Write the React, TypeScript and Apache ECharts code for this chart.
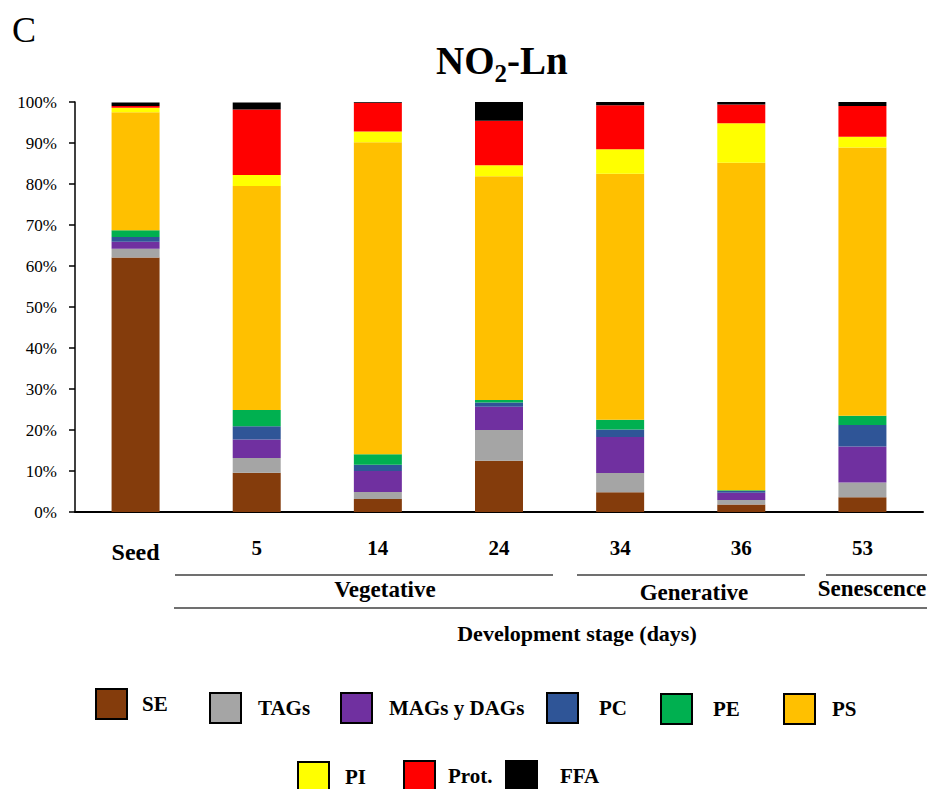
import React, { useEffect, useRef } from "react";
import * as echarts from "echarts";

// ---- data (percent of total) ----
const categories = ["Seed", "5", "14", "24", "34", "36", "53"];
const seriesNames = ["SE", "TAGs", "MAGs y DAGs", "PC", "PE", "PS", "PI", "Prot.", "FFA"];
const SE = [62.1, 9.6, 3.2, 12.5, 4.8, 1.8, 3.6];
const TAGs = [2.1, 3.6, 1.7, 7.5, 4.7, 1.1, 3.6];
const MAGs = [1.7, 4.5, 5.1, 5.7, 8.8, 1.8, 8.8];
const PC = [1.2, 3.2, 1.5, 1.0, 1.8, 0.4, 5.2];
const PE = [1.6, 4.0, 2.6, 0.6, 2.4, 0.2, 2.3];
const PS = [28.8, 54.6, 76.1, 54.6, 60.0, 79.9, 65.4];
const PI = [1.1, 2.7, 2.6, 2.7, 6.0, 9.6, 2.6];
const Prot = [0.4, 16.0, 7.0, 10.8, 10.7, 4.6, 7.5];
const FFA = [0.9, 1.7, 0.2, 4.6, 0.8, 0.6, 1.0];
const seriesValues = [SE, TAGs, MAGs, PC, PE, PS, PI, Prot, FFA];
const seriesColors = ["#843C0C", "#A5A5A5", "#7030A0", "#2F5597", "#00B050", "#FFC000", "#FFFF00", "#FF0000", "#000000"];

const stageGroups = ["Vegetative", "Generative", "Senescence"];
const axisTitle = "Development stage (days)";

// ---- layout of the legend items (box left/top, text offsets) ----
const legendLayout = [
  { left: 95, top: 688, dy: 3, dx: 10 },
  { left: 209, top: 692, dy: 5, dx: 12 },
  { left: 340, top: 692, dy: 6, dx: 12 },
  { left: 546, top: 692, dy: 4, dx: 16 },
  { left: 660, top: 693, dy: 4, dx: 16 },
  { left: 783, top: 693, dy: 3, dx: 12 },
  { left: 297, top: 761, dy: 3, dx: 11 },
  { left: 403, top: 760, dy: -4, dx: 8 },
  { left: 505, top: 760, dy: 3, dx: 18 },
];

const FONT = "'Liberation Serif', 'DejaVu Serif', serif";

export default function App() {
  const ref = useRef<HTMLDivElement>(null);

  useEffect(() => {
    if (!ref.current) return;
    const chart = echarts.init(ref.current, undefined, { renderer: "svg" });

    const legends = seriesNames.map((name, i) => {
      const l = legendLayout[i];
      const pad = l.dy >= 0 ? [2 * l.dy, 0, 0, l.dx] : [0, 0, -2 * l.dy, l.dx];
      return {
        data: [name],
        left: l.left,
        top: l.top,
        padding: 0,
        itemWidth: 31,
        itemHeight: 30,
        icon: "rect",
        selectedMode: false,
        itemStyle: { borderColor: "#000", borderWidth: 2 },
        textStyle: {
          fontFamily: FONT,
          fontWeight: "bold",
          fontSize: 21,
          color: "#000",
          padding: pad,
        },
      };
    });

    const textStyleBase = { fontFamily: FONT, fontWeight: "bold", fill: "#000" };

    const option: any = {
      animation: false,
      backgroundColor: "#fff",
      title: {
        text: "{a|NO}{b|2}{a|-Ln}",
        left: 431,
        top: 30,
        textStyle: {
          rich: {
            a: { fontFamily: FONT, fontWeight: "bold", fontSize: 39, color: "#000" },
            b: { fontFamily: FONT, fontWeight: "bold", fontSize: 25, color: "#000", padding: [26, 0, 0, 0] },
          },
        },
      },
      legend: legends,
      grid: { left: 75, right: 14, top: 102, bottom: 277, containLabel: false },
      xAxis: {
        type: "category",
        data: categories,
        axisLine: { show: true, lineStyle: { color: "#000", width: 2 } },
        axisTick: { show: false },
        axisLabel: {
          margin: 25,
          formatter: (v: string) => (v === "Seed" ? "{s|" + v + "}" : "{n|" + v + "}"),
          rich: {
            s: { fontFamily: FONT, fontWeight: "bold", fontSize: 24, lineHeight: 30, color: "#000" },
            n: { fontFamily: FONT, fontWeight: "bold", fontSize: 21, lineHeight: 21, color: "#000" },
          },
        },
      },
      yAxis: {
        type: "value",
        min: 0,
        max: 100,
        interval: 10,
        axisLine: { show: true, lineStyle: { color: "#000", width: 1.5 } },
        axisTick: { show: true, length: 6, inside: false, lineStyle: { color: "#000", width: 1.5 } },
        splitLine: { show: false },
        axisLabel: {
          margin: 18,
          formatter: "{value}%",
          fontFamily: FONT,
          fontSize: 17,
          color: "#000",
        },
      },
      series: seriesNames.map((name, i) => ({
        name,
        type: "bar",
        stack: "total",
        barWidth: 48,
        data: seriesValues[i],
        itemStyle: { color: seriesColors[i] },
      })),
      graphic: [
        { type: "text", left: 12, top: 12, style: { text: "C", fontFamily: FONT, fontSize: 36, fill: "#000" } },
        { type: "line", shape: { x1: 175, y1: 575, x2: 553, y2: 575 }, style: { stroke: "#404040", lineWidth: 1.5 } },
        { type: "line", shape: { x1: 577, y1: 575, x2: 805, y2: 575 }, style: { stroke: "#404040", lineWidth: 1.5 } },
        { type: "line", shape: { x1: 826, y1: 575, x2: 927, y2: 575 }, style: { stroke: "#404040", lineWidth: 1.5 } },
        { type: "line", shape: { x1: 174, y1: 608, x2: 927, y2: 608 }, style: { stroke: "#404040", lineWidth: 1.5 } },
        { type: "text", x: 385, y: 589.5, style: { ...textStyleBase, text: stageGroups[0], fontSize: 23, align: "center", verticalAlign: "middle" } },
        { type: "text", x: 694, y: 592.5, style: { ...textStyleBase, text: stageGroups[1], fontSize: 23, align: "center", verticalAlign: "middle" } },
        { type: "text", x: 872, y: 588.5, style: { ...textStyleBase, text: stageGroups[2], fontSize: 23, align: "center", verticalAlign: "middle" } },
        { type: "text", x: 577, y: 633, style: { ...textStyleBase, text: axisTitle, fontSize: 22, align: "center", verticalAlign: "middle" } },
      ],
    };

    chart.setOption(option);
    return () => chart.dispose();
  }, []);

  return (
    <div
      ref={ref}
      style={{ position: "fixed", left: 0, top: 0, width: 937, height: 789, background: "#fff" }}
    />
  );
}
